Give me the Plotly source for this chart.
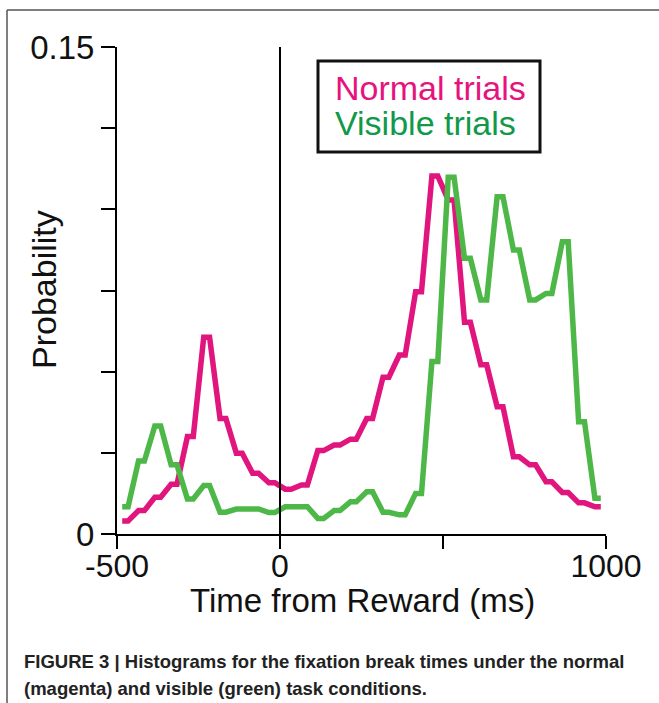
import plotly.graph_objects as go

# Bin centers (ms), 50 ms bins
bin_centers = [-475, -425, -375, -325, -275, -225, -175, -125, -75, -25,
               25, 75, 125, 175, 225, 275, 325, 375, 425, 475,
               525, 575, 625, 675, 725, 775, 825, 875, 925, 975]

normal_trials = [0.0040, 0.0072, 0.0113, 0.0153, 0.0300, 0.0606, 0.0356, 0.0249, 0.0187, 0.0158,
                 0.0138, 0.0151, 0.0257, 0.0274, 0.0292, 0.0356, 0.0483, 0.0551, 0.0746, 0.1103,
                 0.1029, 0.0652, 0.0521, 0.0392, 0.0238, 0.0213, 0.0161, 0.0128, 0.0096, 0.0084]

visible_trials = [0.0084, 0.0225, 0.0333, 0.0213, 0.0108, 0.0149, 0.0067, 0.0077, 0.0077, 0.0066,
                  0.0084, 0.0084, 0.0048, 0.0072, 0.0099, 0.0130, 0.0067, 0.0059, 0.0125, 0.0531,
                  0.1099, 0.0849, 0.0721, 0.1039, 0.0875, 0.0721, 0.0741, 0.0900, 0.0346, 0.0110]

x_tick_vals = [-500, 0, 500, 1000]
x_tick_text = ["-500", "0", "", "1000"]
y_tick_vals = [0, 0.025, 0.05, 0.075, 0.1, 0.125, 0.15]
y_tick_text = ["0", "", "", "", "", "", "0.15"]

MAGENTA = "#E0157E"
GREEN = "#4DB848"
HALF = 9  # half-width of the flat top drawn at each bin (ms)


def plateau(xs, ys):
    px, py = [], []
    for x, y in zip(xs, ys):
        px += [x - HALF, x + HALF]
        py += [y, y]
    return px, py


W, H = 659, 703
L, R, T, B = 117, 53, 47, 169
pw, ph = W - L - R, H - T - B


def paper_x(px):
    return (px - L) / pw


def paper_y(py):
    return (H - B - py) / ph


fig = go.Figure()
nx, ny = plateau(bin_centers, normal_trials)
vx, vy = plateau(bin_centers, visible_trials)
fig.add_trace(go.Scatter(x=nx, y=ny, mode="lines", line=dict(color=MAGENTA, width=5.5),
                         name="Normal trials", showlegend=False))
fig.add_trace(go.Scatter(x=vx, y=vy, mode="lines", line=dict(color=GREEN, width=5.5),
                         name="Visible trials", showlegend=False))

FONT = "Liberation Sans, Arial, sans-serif"
CAPFONT = "Liberation Sans, Arial, sans-serif"

fig.update_layout(
    width=W, height=H,
    margin=dict(l=L, r=R, t=T, b=B, pad=0),
    paper_bgcolor="white", plot_bgcolor="white",
    font=dict(family=FONT, color="#111", size=32),
    xaxis=dict(range=[-500, 1000], tickvals=x_tick_vals, ticktext=x_tick_text,
               showgrid=False, zeroline=False, showline=True, linecolor="black", linewidth=2,
               ticks="outside", ticklen=13, tickwidth=2, tickcolor="black",
               ticklabelstandoff=-10,
               tickfont=dict(size=32, family=FONT, color="#111")),
    yaxis=dict(range=[0, 0.15], tickvals=y_tick_vals, ticktext=y_tick_text,
               showgrid=False, zeroline=False, showline=True, linecolor="black", linewidth=2,
               ticks="outside", ticklen=14, tickwidth=2, tickcolor="black",
               tickfont=dict(size=33, family=FONT, color="#111")),
    shapes=[
        dict(type="line", xref="x", yref="y", x0=0, x1=0, y0=0, y1=0.1506,
             line=dict(color="black", width=2)),
        dict(type="rect", xref="paper", yref="paper",
             x0=paper_x(318), x1=paper_x(540), y0=paper_y(152), y1=paper_y(61),
             line=dict(color="#111", width=3), fillcolor="rgba(0,0,0,0)"),
        dict(type="line", xref="paper", yref="paper",
             x0=paper_x(7), x1=paper_x(7), y0=paper_y(10), y1=paper_y(710),
             line=dict(color="#555", width=1.5)),
        dict(type="line", xref="paper", yref="paper",
             x0=paper_x(7), x1=paper_x(670), y0=paper_y(10), y1=paper_y(10),
             line=dict(color="#555", width=1.5)),
    ],
    annotations=[
        dict(text="Normal trials", xref="paper", yref="paper", x=paper_x(333), y=paper_y(88),
             xanchor="left", yanchor="middle", showarrow=False,
             font=dict(size=34, color="#E6127E", family=FONT)),
        dict(text="Visible trials", xref="paper", yref="paper", x=paper_x(333), y=paper_y(123),
             xanchor="left", yanchor="middle", showarrow=False,
             font=dict(size=34, color="#10994A", family=FONT)),
        dict(text="Probability", xref="paper", yref="paper", x=paper_x(44), y=paper_y(290),
             xanchor="center", yanchor="middle", showarrow=False, textangle=-90,
             font=dict(size=34, color="#111", family=FONT)),
        dict(text="Time from Reward (ms)", xref="paper", yref="paper", x=paper_x(362), y=paper_y(600),
             xanchor="center", yanchor="middle", showarrow=False,
             font=dict(size=33, color="#111", family=FONT)),
        dict(text="<b>FIGURE 3 | Histograms for the fixation break times under the normal</b>",
             xref="paper", yref="paper", x=paper_x(22), y=paper_y(661),
             xanchor="left", yanchor="middle", showarrow=False,
             font=dict(size=18.5, color="#222", family=CAPFONT)),
        dict(text="<b>(magenta) and visible (green) task conditions.</b>",
             xref="paper", yref="paper", x=paper_x(22), y=paper_y(688),
             xanchor="left", yanchor="middle", showarrow=False,
             font=dict(size=18.5, color="#222", family=CAPFONT)),
    ],
)

fig.write_html("out.html", config={"displayModeBar": False},
               post_script="document.body.style.margin='0px';")
